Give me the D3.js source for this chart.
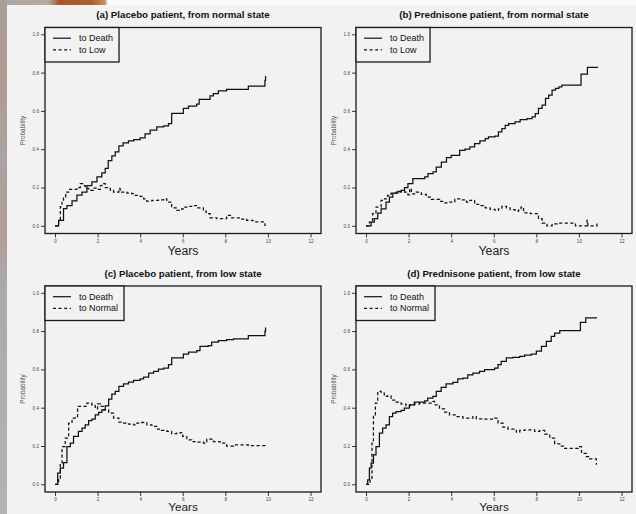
<!DOCTYPE html>
<html><head><meta charset="utf-8">
<script src="https://cdn.jsdelivr.net/npm/d3@7/dist/d3.min.js"></script>
<style>body{margin:0;background:#f2f2f2;overflow:hidden} svg{display:block}</style>
</head><body><svg id="c" width="636" height="514"></svg>
<script>
const xTicks=[0,2,4,6,8,10,12];
const yTicks=[0,0.2,0.4,0.6,0.8,1.0];
const panelTitles=["(a) Placebo patient, from normal state","(b) Prednisone patient, from normal state","(c) Placebo patient, from low state","(d) Prednisone patient, from low state"];
const legendLabels=[["to Death","to Low"],["to Death","to Low"],["to Death","to Normal"],["to Death","to Normal"]];
const xLabel="Years", yLabel="Probability";

const aDeath=[[0,0],[0.17,0.028],[0.4,0.09],[0.56,0.106],[0.8,0.13],[1.03,0.16],[1.27,0.176],[1.5,0.21],[1.73,0.23],[1.97,0.255],[2.2,0.276],[2.36,0.30],[2.5,0.34],[2.67,0.365],[2.83,0.386],[3.0,0.417],[3.2,0.433],[3.45,0.443],[3.7,0.45],[4.0,0.459],[4.23,0.48],[4.47,0.50],[4.78,0.517],[5.1,0.522],[5.33,0.534],[5.48,0.587],[6.03,0.613],[6.27,0.625],[6.65,0.635],[6.77,0.66],[7.28,0.679],[7.44,0.69],[7.67,0.705],[8.06,0.712],[9.08,0.73],[9.86,0.76],[9.89,0.78],[9.9,0.78]];
const aLow=[[0,0],[0.1,0],[0.17,0.028],[0.25,0.1],[0.33,0.13],[0.4,0.15],[0.5,0.176],[0.64,0.19],[1.03,0.2],[1.19,0.22],[1.34,0.21],[1.42,0.195],[1.58,0.185],[1.8,0.197],[1.97,0.19],[2.13,0.21],[2.2,0.22],[2.36,0.2],[2.6,0.185],[2.75,0.176],[3.0,0.195],[3.06,0.176],[3.38,0.171],[3.6,0.168],[3.77,0.159],[4.0,0.154],[4.16,0.141],[4.3,0.129],[4.55,0.133],[4.86,0.136],[5.1,0.141],[5.25,0.124],[5.48,0.094],[5.72,0.08],[5.95,0.089],[6.03,0.098],[6.27,0.101],[6.42,0.106],[6.65,0.094],[6.97,0.077],[7.1,0.063],[7.28,0.042],[7.6,0.037],[8.06,0.054],[8.3,0.042],[8.77,0.035],[9.0,0.028],[9.3,0.021],[9.86,0.002],[9.9,0.002]];
const bDeath=[[0,0],[0.24,0.019],[0.39,0.037],[0.55,0.066],[0.71,0.089],[0.94,0.124],[1.1,0.15],[1.26,0.171],[1.5,0.18],[1.65,0.185],[1.81,0.2],[1.97,0.22],[2.2,0.246],[2.76,0.255],[2.91,0.272],[3.15,0.281],[3.3,0.307],[3.54,0.333],[3.78,0.356],[4.0,0.368],[4.4,0.394],[4.65,0.40],[4.88,0.412],[5.1,0.429],[5.35,0.443],[5.6,0.455],[5.75,0.464],[6.06,0.468],[6.22,0.49],[6.38,0.508],[6.54,0.525],[6.7,0.534],[7.0,0.543],[7.24,0.555],[7.56,0.56],[7.8,0.569],[7.95,0.586],[8.1,0.613],[8.27,0.63],[8.43,0.665],[8.58,0.682],[8.74,0.709],[8.9,0.717],[9.06,0.726],[9.2,0.735],[10.1,0.792],[10.4,0.827],[10.9,0.827]];
const bLow=[[0,0],[0.16,0.019],[0.31,0.063],[0.47,0.098],[0.71,0.133],[0.87,0.141],[1.02,0.159],[1.18,0.171],[1.42,0.176],[1.65,0.18],[1.81,0.176],[1.97,0.162],[2.05,0.194],[2.13,0.167],[2.36,0.176],[2.6,0.164],[2.83,0.15],[3.07,0.138],[3.46,0.127],[3.7,0.12],[3.94,0.124],[4.17,0.141],[4.4,0.136],[4.72,0.124],[4.88,0.133],[5.1,0.112],[5.35,0.106],[5.6,0.094],[5.83,0.086],[6.06,0.08],[6.22,0.089],[6.38,0.101],[6.6,0.094],[6.77,0.084],[7.0,0.077],[7.17,0.089],[7.28,0.098],[7.4,0.068],[7.72,0.063],[8.1,0.037],[8.27,0.014],[8.5,0],[8.74,0.01],[8.98,0.014],[9.84,0],[10.38,0.028],[10.42,0],[10.85,0.014],[10.9,0.014]];
const cDeath=[[0,0],[0.125,0.058],[0.25,0.084],[0.4,0.113],[0.56,0.197],[0.72,0.215],[0.87,0.25],[1.1,0.276],[1.27,0.293],[1.42,0.31],[1.58,0.332],[1.73,0.34],[1.89,0.363],[2.05,0.375],[2.2,0.389],[2.36,0.41],[2.52,0.445],[2.67,0.471],[2.83,0.485],[3.0,0.511],[3.22,0.524],[3.45,0.534],[3.69,0.543],[4.0,0.55],[4.16,0.56],[4.4,0.58],[4.63,0.59],[4.86,0.602],[5.1,0.607],[5.33,0.625],[5.48,0.66],[6.03,0.68],[6.27,0.69],[6.66,0.698],[6.81,0.72],[7.2,0.724],[7.36,0.742],[7.67,0.75],[8.06,0.756],[8.38,0.76],[9.08,0.777],[9.86,0.8],[9.89,0.817],[9.9,0.817]];
const cNormal=[[0,0],[0.1,0],[0.17,0.031],[0.25,0.11],[0.33,0.197],[0.48,0.241],[0.64,0.32],[0.8,0.346],[0.95,0.354],[1.06,0.407],[1.5,0.424],[1.73,0.415],[1.89,0.394],[2.0,0.42],[2.13,0.407],[2.28,0.389],[2.52,0.372],[2.75,0.346],[3.0,0.325],[3.22,0.32],[3.45,0.314],[3.69,0.31],[3.84,0.32],[4.08,0.323],[4.31,0.31],[4.55,0.302],[4.78,0.288],[5.0,0.281],[5.25,0.276],[5.48,0.264],[5.72,0.267],[5.88,0.27],[6.0,0.25],[6.19,0.232],[6.42,0.223],[6.66,0.22],[6.97,0.215],[7.13,0.236],[7.44,0.223],[7.75,0.215],[8.06,0.2],[8.38,0.206],[9.08,0.202],[9.86,0.192],[9.9,0.192]];
const dDeath=[[0,0],[0.08,0.023],[0.16,0.084],[0.24,0.11],[0.35,0.154],[0.47,0.197],[0.63,0.267],[0.78,0.293],[0.94,0.31],[1.1,0.354],[1.25,0.372],[1.41,0.38],[1.65,0.386],[1.8,0.398],[2.04,0.415],[2.27,0.429],[2.75,0.436],[2.9,0.45],[3.14,0.459],[3.3,0.485],[3.53,0.506],[3.76,0.525],[4.08,0.532],[4.31,0.551],[4.55,0.555],[4.78,0.572],[5.02,0.581],[5.33,0.59],[5.57,0.599],[6.04,0.607],[6.2,0.625],[6.35,0.642],[6.59,0.66],[6.9,0.663],[7.22,0.668],[7.45,0.674],[7.76,0.68],[8.0,0.695],[8.24,0.72],[8.47,0.747],[8.7,0.773],[8.86,0.79],[9.1,0.803],[10.07,0.846],[10.32,0.869],[10.85,0.869]];
const dNormal=[[0,0],[0.13,0],[0.19,0.023],[0.28,0.215],[0.35,0.363],[0.44,0.424],[0.55,0.485],[0.71,0.476],[0.86,0.459],[1.02,0.462],[1.18,0.44],[1.41,0.429],[1.65,0.419],[1.88,0.41],[2.07,0.415],[2.27,0.419],[2.51,0.424],[3.06,0.433],[3.22,0.415],[3.45,0.394],[3.69,0.377],[3.92,0.363],[4.24,0.354],[4.55,0.346],[5.02,0.354],[5.18,0.342],[5.49,0.34],[6.04,0.346],[6.2,0.319],[6.43,0.298],[6.67,0.288],[7.06,0.272],[7.22,0.281],[7.45,0.284],[7.92,0.276],[8.16,0.281],[8.39,0.262],[8.63,0.241],[8.86,0.211],[9.1,0.2],[9.33,0.188],[9.96,0.197],[10.12,0.162],[10.35,0.145],[10.5,0.133],[10.82,0.106],[10.85,0.106]];

const solidSeries=[aDeath,bDeath,cDeath,dDeath];
const dashedSeries=[aLow,bLow,cNormal,dNormal];

const svg=d3.select("#c");
const FONT="'Liberation Sans', Arial, Helvetica, sans-serif";

// background & screenshot border decoration
const defs=svg.append("defs");
const lg=defs.append("linearGradient").attr("id","leftStrip").attr("x1",0).attr("y1",0).attr("x2",0).attr("y2",1);
[[0,"#a99f98"],[0.15,"#b39a90"],[0.3,"#a8a4a2"],[0.45,"#b59c95"],[0.55,"#aaaaaa"],[1,"#b3b3b3"]].forEach(s=>lg.append("stop").attr("offset",s[0]).attr("stop-color",s[1]));
const tg=defs.append("linearGradient").attr("id","topStrip").attr("x1",0).attr("y1",0).attr("x2",1).attr("y2",0);
[[0,"#aaa6a2"],[0.45,"#b7aaa0"],[0.55,"#a8562a"],[0.85,"#b0602e"],[0.97,"#c88a60"],[1,"#fbfbfb"]].forEach(s=>tg.append("stop").attr("offset",s[0]).attr("stop-color",s[1]));
svg.append("rect").attr("width",636).attr("height",514).attr("fill","#f2f2f2");
svg.append("rect").attr("width",636).attr("height",5).attr("fill","#fbfbfb");
svg.append("rect").attr("x",0).attr("y",0).attr("width",108).attr("height",5).attr("fill","url(#topStrip)");
svg.append("rect").attr("x",0).attr("y",0).attr("width",7).attr("height",514).attr("fill","url(#leftStrip)");

const cols=[45,356], rows=[27.5,286];
const W=276, H=206;
const xLabelY=[255.2,511.4];
const xLabelSize=[12.3,11.8];

for(let i=0;i<4;i++){
  const L=cols[i%2], r=Math.floor(i/2), T=rows[r];
  const g=svg.append("g");
  const x=d3.scaleLinear().domain([0,12]).range([L+10,L+W-10.5]);
  const y=d3.scaleLinear().domain([0,1]).range([T+H-7.7,T+6.8]);

  // axes
  const xa=g.append("g").attr("transform",`translate(0,${T+H})`)
    .call(d3.axisBottom(x).tickValues(xTicks).tickSize(4).tickPadding(r?1.6:2.2).tickFormat(d3.format("d")));
  const ya=g.append("g").attr("transform",`translate(${L},0)`)
    .call(d3.axisLeft(y).tickValues(yTicks).tickSize(4).tickPadding(2).tickFormat(d3.format(".1f")));
  [xa,ya].forEach(a=>{
    a.select(".domain").remove();
    a.selectAll("line").attr("stroke","#222").attr("stroke-width",0.9);
    a.selectAll("text").attr("font-family",FONT).attr("font-size",4.6).attr("fill","#444");
  });

  // frame
  g.append("rect").attr("x",L).attr("y",T).attr("width",W).attr("height",H)
    .attr("fill","none").attr("stroke","#1a1a1a").attr("stroke-width",1.3);

  // title
  g.append("text").attr("x",L+W/2).attr("y",T-9.3).attr("text-anchor","middle")
    .attr("font-family",FONT).attr("font-weight","bold").attr("font-size",9.7).attr("fill","#111")
    .text(panelTitles[i]);
  // x label
  g.append("text").attr("x",L+W/2).attr("y",xLabelY[r]).attr("text-anchor","middle")
    .attr("font-family",FONT).attr("font-size",xLabelSize[r]).attr("fill","#222").text(xLabel);
  // y label
  g.append("text").attr("transform",`translate(${L-19.8},${T+H/2}) rotate(-90)`).attr("text-anchor","middle")
    .attr("font-family",FONT).attr("font-size",6.3).attr("fill","#555").text(yLabel);

  // curves
  const line=d3.line().x(d=>x(d[0])).y(d=>y(d[1])).curve(d3.curveStepAfter);
  g.append("path").attr("d",line(solidSeries[i])).attr("fill","none").attr("stroke","#111").attr("stroke-width",1.25);
  g.append("path").attr("d",line(dashedSeries[i])).attr("fill","none").attr("stroke","#111").attr("stroke-width",1.25).attr("stroke-dasharray","3.2,2.4");

  // legend
  const lgG=g.append("g");
  const box=lgG.append("rect").attr("x",L).attr("y",T).attr("height",34.5).attr("fill","#f2f2f2").attr("stroke","#1a1a1a").attr("stroke-width",1.3);
  let maxW=0;
  legendLabels[i].forEach((lab,j)=>{
    const ly=T+10.7+j*11.6;
    lgG.append("line").attr("x1",L+8).attr("x2",L+26).attr("y1",ly).attr("y2",ly)
      .attr("stroke","#111").attr("stroke-width",1.2).attr("stroke-dasharray",j?"3,2.6":null);
    const t=lgG.append("text").attr("x",L+34).attr("y",ly+3.1).attr("font-family",FONT).attr("font-size",9).attr("fill","#111").text(lab);
    maxW=Math.max(maxW,t.node().getComputedTextLength());
  });
  box.attr("width",34+maxW+6);
}
</script></body></html>
